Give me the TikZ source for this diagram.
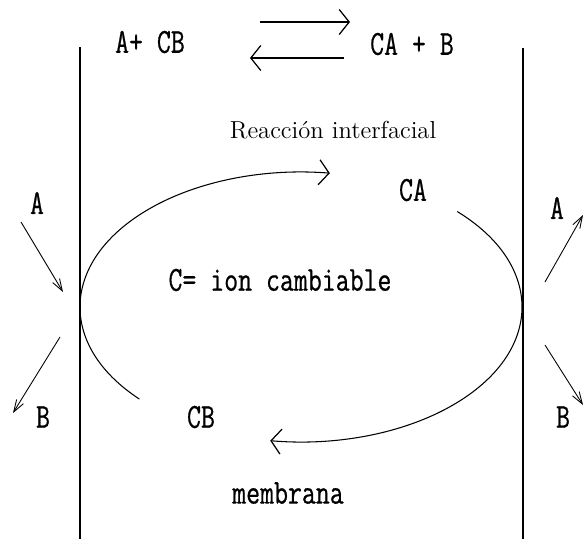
\documentclass[tikz,border=0pt]{standalone}
\usepackage{fontspec}
\newfontfamily\dotfont{Latin Modern Mono}[FakeStretch=0.77,FakeBold=0.6]
\usetikzlibrary{arrows.meta}
\tikzset{
  wall/.style={line width=0.6pt},
  barb/.style={-{Straight Barb[length=2mm,width=5mm,line width=0.7pt]},line width=0.6pt},
  sidebarb/.style={-{Straight Barb[length=2.4mm,width=1.6mm]},line width=0.5pt},
  species/.style={font=\dotfont\fontsize{20}{20}\selectfont,inner sep=1pt},
}

\begin{document}
\begin{tikzpicture}[x=0.02cm,y=0.02cm]
  \useasboundingbox (0,0) rectangle (585,539);

  % membrane walls
  \draw[wall] (80,492) -- (80,0);
  \draw[wall] (523,491) -- (523,0);

  % interfacial reaction
  \node[species] (lhs) at (150,497) {A+ CB};
  \node[species] (rhs) at (412,495) {CA + B};
  \coordinate (fwdA) at (260,517);
  \coordinate (fwdB) at (350,517);
  \coordinate (bckA) at (344,481);
  \coordinate (bckB) at (250,481);
  \draw[barb] (fwdA) -- (fwdB);
  \draw[barb] (bckA) -- (bckB);
  \node[font=\fontsize{14}{14}\selectfont] (rxn) at (333,409) {Reacción interfacial};

  % carrier loop
  \coordinate (loop) at (301,232);
  \draw[barb] (loop) ++(223:221 and 135)
    arc[start angle=223,end angle=82.5,x radius=221,y radius=135];
  \draw[barb] (loop) ++(45:221 and 135)
    arc[start angle=45,end angle=-98,x radius=221,y radius=135];
  \node[species] (ca) at (413,349) {CA};
  \node[species] (cb) at (201,122) {CB};
  \node[species] (ion) at (280,259) {C= ion cambiable};
  \node[species] (memb) at (288,46) {membrana};

  % exchange at left wall
  \node[species] (aL) at (37,336) {A};
  \node[species] (bL) at (43,122) {B};
  \coordinate (aLin) at (21,317);
  \coordinate (aLout) at (63,247);
  \coordinate (bLin) at (60,202);
  \coordinate (bLout) at (13,126);
  \draw[sidebarb] (aLin) -- (aLout);
  \draw[sidebarb] (bLin) -- (bLout);

  % exchange at right wall
  \node[species] (aR) at (557,331) {A};
  \node[species] (bR) at (563,122) {B};
  \coordinate (aRin) at (545,257);
  \coordinate (aRout) at (583,324);
  \coordinate (bRin) at (545,194);
  \coordinate (bRout) at (583,134);
  \draw[sidebarb] (aRin) -- (aRout);
  \draw[sidebarb] (bRin) -- (bRout);

\end{tikzpicture}
\end{document}
